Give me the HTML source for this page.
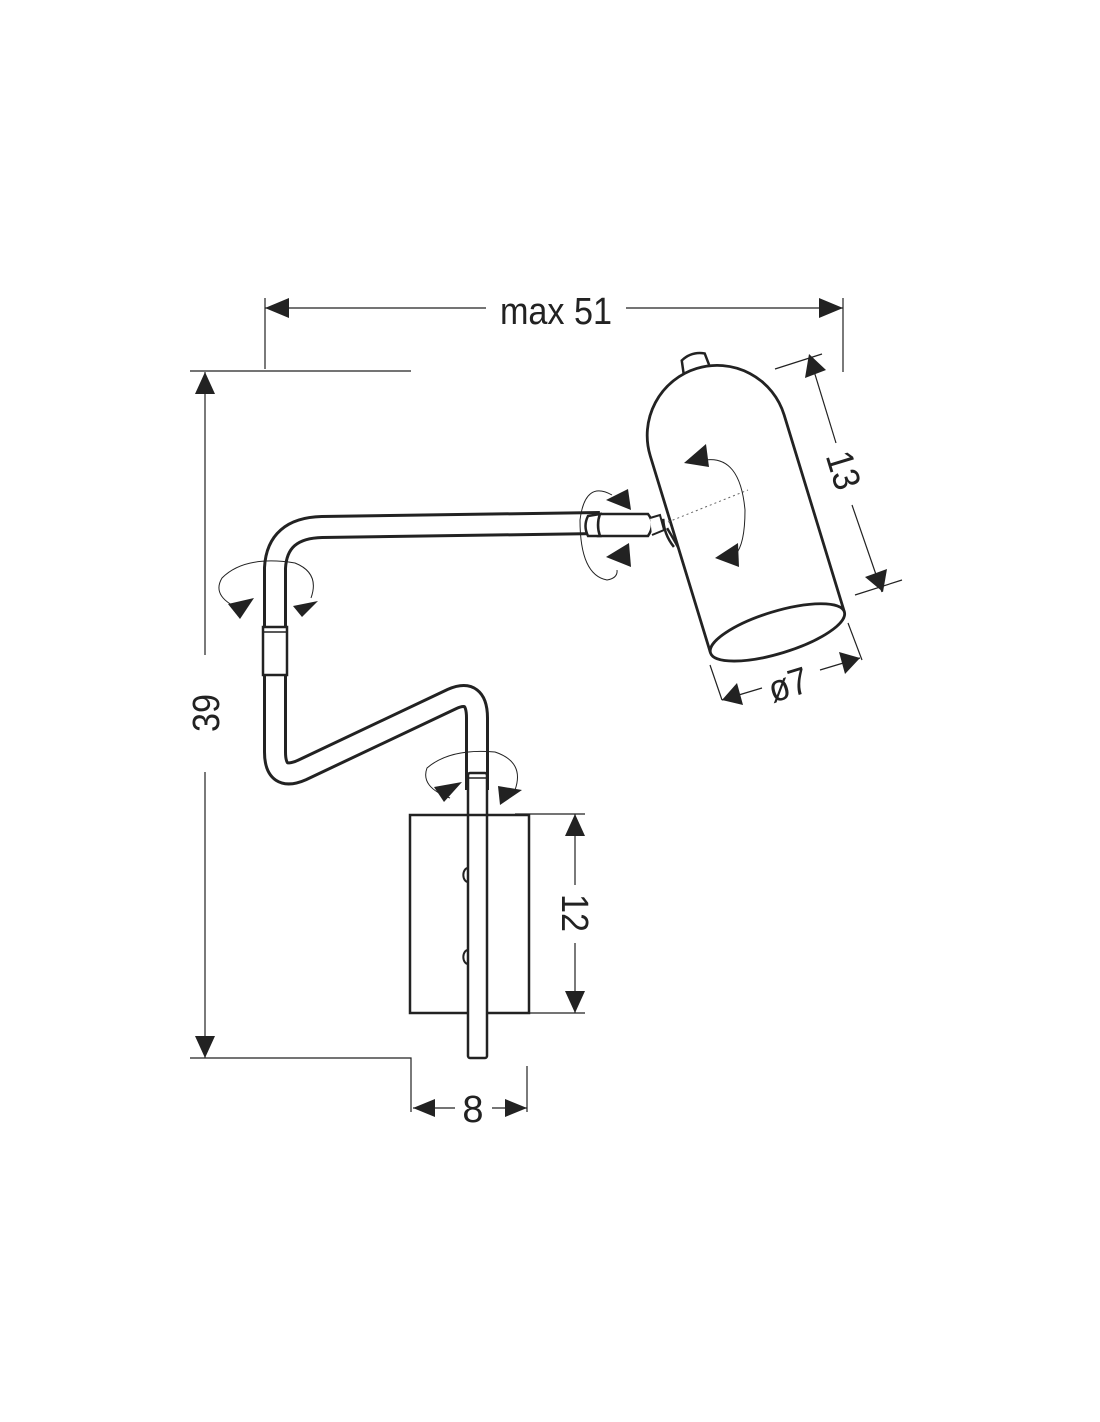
<!DOCTYPE html>
<html><head><meta charset="utf-8"><style>
html,body{margin:0;padding:0;background:#fff;}
svg{display:block;}
text{font-family:"Liberation Sans",sans-serif;fill:#222;}
</style></head><body>
<svg width="1100" height="1422" viewBox="0 0 1100 1422" xmlns="http://www.w3.org/2000/svg">
<rect x="0" y="0" width="1100" height="1422" fill="#fff"/>
<g stroke="#222" stroke-width="1.2" fill="none">
  <line x1="265" y1="308" x2="486" y2="308"/>
  <line x1="626" y1="308" x2="843" y2="308"/>
  <line x1="265" y1="298" x2="265" y2="369"/>
  <line x1="843" y1="298" x2="843" y2="372"/>
  <line x1="190" y1="371" x2="411" y2="371"/>
  <line x1="205" y1="372" x2="205" y2="655"/>
  <line x1="205" y1="772" x2="205" y2="1058"/>
  <polyline points="190,1058 411,1058 411,1112"/>
  <line x1="413" y1="1108" x2="455" y2="1108"/>
  <line x1="492" y1="1108" x2="527" y2="1108"/>
  <line x1="527" y1="1066" x2="527" y2="1112"/>
  <line x1="515" y1="814" x2="585" y2="814"/>
  <line x1="515" y1="1013" x2="585" y2="1013"/>
  <line x1="575" y1="814" x2="575" y2="885"/>
  <line x1="575" y1="943" x2="575" y2="1013"/>
  <line x1="775" y1="369" x2="822" y2="354"/>
  <line x1="855" y1="595" x2="902" y2="580"/>
  <line x1="810" y1="358" x2="836" y2="443"/>
  <line x1="852" y1="505" x2="882" y2="592"/>
  <line x1="710" y1="665" x2="722" y2="700"/>
  <line x1="848" y1="623" x2="862" y2="660"/>
  <line x1="722" y1="700" x2="762" y2="688"/>
  <line x1="820" y1="670" x2="860" y2="658"/>
</g>
<g fill="#222">
  <polygon points="265,308 289,298 289,318"/>
  <polygon points="843,308 819,298 819,318"/>
  <polygon points="205,372 195,394 215,394"/>
  <polygon points="205,1058 195,1036 215,1036"/>
  <polygon points="413,1108 435,1099 435,1117"/>
  <polygon points="527,1108 505,1099 505,1117"/>
  <polygon points="575,814 565,836 585,836"/>
  <polygon points="575,1013 565,991 585,991"/>
  <polygon points="809,354 826,370 805,378"/>
  <polygon points="883,592 865,577 887,569"/>
  <polygon points="722,700 737,683 743,705"/>
  <polygon points="860,658 839,652 845,674"/>
</g>
<g font-size="38">
  <text x="556" y="324" text-anchor="middle" transform="translate(556 0) scale(0.9 1) translate(-556 0)">max 51</text>
  <text transform="translate(219 713) rotate(-90) scale(0.9 1)" text-anchor="middle">39</text>
  <text transform="translate(562 913) rotate(90) scale(0.9 1)" text-anchor="middle">12</text>
  <text x="473" y="1122" text-anchor="middle">8</text>
  <text transform="translate(831 474) rotate(73) scale(0.9 1)" text-anchor="middle">13</text>
  <text transform="translate(792 697) rotate(-17) scale(0.9 1)" text-anchor="middle">ø7</text>
</g>

<path d="M477,790 L477,718 Q477,688 452,699 L302,770 Q275,782 275,752 L275,568 Q277,528 322,527 L600,523" fill="none" stroke="#222" stroke-width="24" stroke-linejoin="round"/>
<path d="M477,790 L477,718 Q477,688 452,699 L302,770 Q275,782 275,752 L275,568 Q277,528 322,527 L600,523" fill="none" stroke="#fff" stroke-width="18" stroke-linejoin="round"/>
<rect x="263" y="627" width="24" height="48" fill="#fff" stroke="#222" stroke-width="2.5"/>
<line x1="263" y1="632" x2="287" y2="632" stroke="#222" stroke-width="1.5"/>

<rect x="410" y="815" width="119" height="198" fill="#fff" stroke="#222" stroke-width="2.5"/>
<path d="M468,868 a4,6 0 0 0 0,14 M468,950 a4,6 0 0 0 0,14" fill="none" stroke="#222" stroke-width="2"/>
<rect x="468" y="773" width="19" height="285" rx="2" fill="#fff" stroke="#222" stroke-width="2.5"/>
<line x1="468" y1="778" x2="487" y2="778" stroke="#222" stroke-width="1.5"/>
<line x1="468" y1="815" x2="487" y2="815" stroke="#222" stroke-width="2.5"/>

<path d="M598,514 L648,514 Q656,524 648,536 L598,536 Z" fill="#fff" stroke="#222" stroke-width="2.5"/>
<path d="M588,516 L600,514 Q596,525 600,536 L588,536 Q583,526 588,516 Z" fill="#fff" stroke="#222" stroke-width="2.5"/>
<path d="M650,518 L660,515 L664,530 L652,535" fill="#fff" stroke="#222" stroke-width="2"/>

<g transform="translate(740 510) rotate(-17)">
  <path d="M-14,-147 L-12,-160 Q0,-166 12,-160 L13,-146" fill="#fff" stroke="#222" stroke-width="2.5"/>
  <path d="M-70,128 L-70,-78 A70,70 0 0 1 70,-78 L70,128" fill="#fff" stroke="#222" stroke-width="2.8"/>
  <ellipse cx="0" cy="128" rx="70" ry="21" fill="#fff" stroke="#222" stroke-width="2.8"/>
  <path d="M-76,-14 Q-80,1 -74,16 M-75,-4 Q-72,8 -70,18" fill="none" stroke="#222" stroke-width="2.5"/>
</g>
<line x1="668" y1="522" x2="748" y2="490" stroke="#666" stroke-width="1" stroke-dasharray="2,3"/>

<g fill="none" stroke="#222" stroke-width="1">
  <path d="M245,611 Q210,598 222,578 Q245,555 295,563 Q320,573 311,598"/>
  <path d="M450,798 Q420,787 427,768 Q450,748 495,752 Q525,762 515,790"/>
  <path d="M612,495 Q585,480 580,520 Q580,575 607,580 Q618,578 617,570"/>
  <path d="M705,460 Q740,455 745,510 Q745,545 735,555"/>
</g>
<g fill="#222">
  <polygon points="228,604 254,598 240,619"/>
  <polygon points="293,606 318,601 302,617"/>
  <polygon points="434,787 462,782 444,802"/>
  <polygon points="498,786 522,790 500,805"/>
  <polygon points="606,500 628,489 631,510"/>
  <polygon points="606,557 629,543 631,567"/>
  <polygon points="684,463 706,444 709,467"/>
  <polygon points="715,558 738,543 739,567"/>
</g>
</svg>
</body></html>
